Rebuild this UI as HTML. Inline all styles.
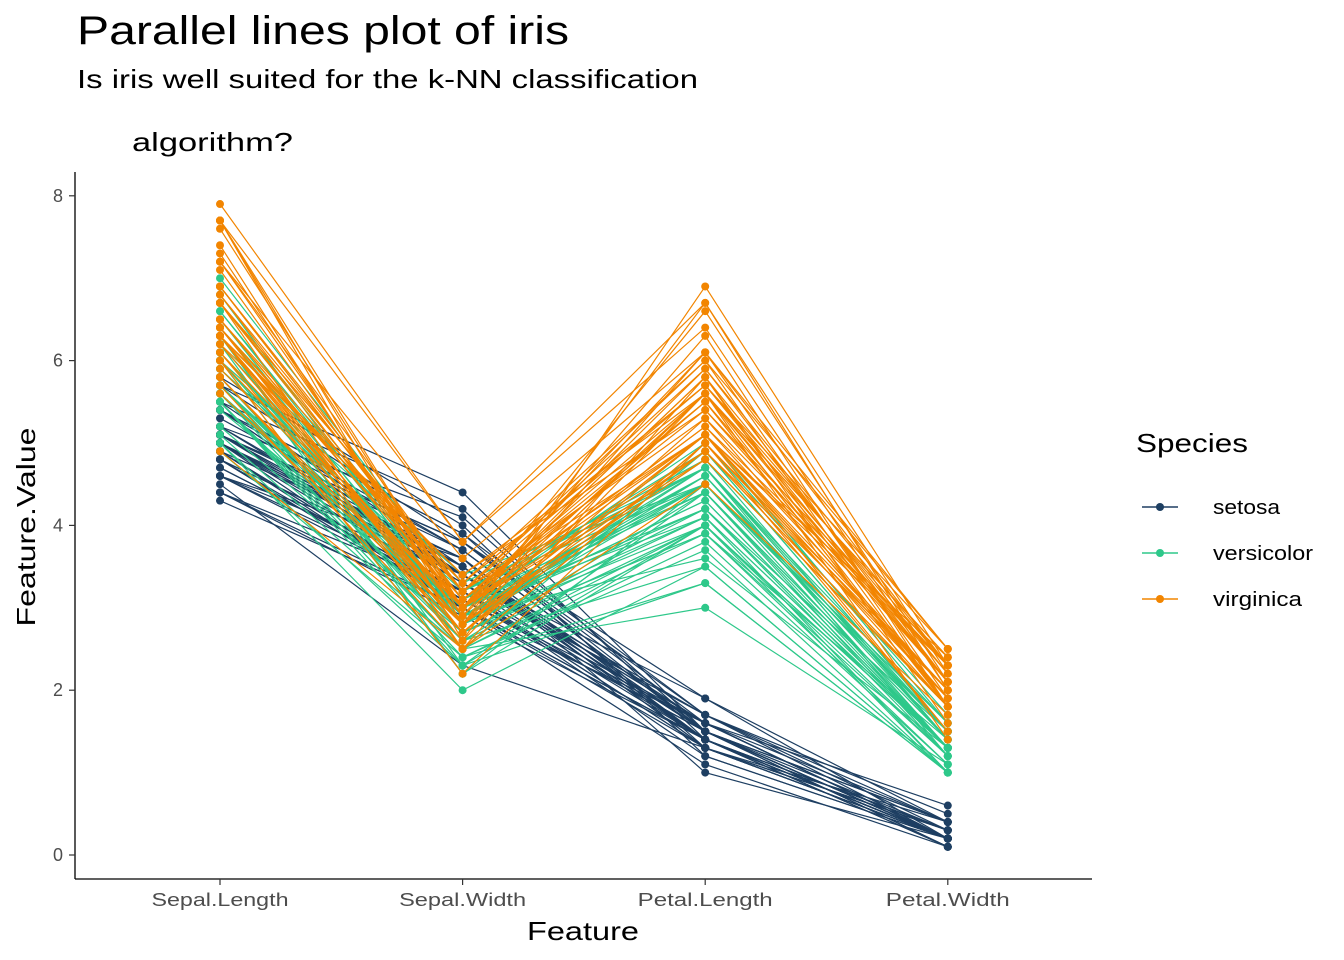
<!DOCTYPE html>
<html><head><meta charset="utf-8">
<style>
html,body{margin:0;padding:0;background:#fff;}
svg{display:block;font-family:"Liberation Sans",sans-serif;}
</style></head>
<body>
<svg id="chart" width="1344" height="960" viewBox="0 0 1344 960">
<text x="77" y="44" font-size="40" fill="#000" textLength="492" lengthAdjust="spacingAndGlyphs">Parallel lines plot of iris</text>
<text x="77" y="88" font-size="26" fill="#000" textLength="621" lengthAdjust="spacingAndGlyphs">Is iris well suited for the k-NN classification</text>
<text x="132" y="151" font-size="26" fill="#000" textLength="161" lengthAdjust="spacingAndGlyphs">algorithm?</text>
<g id="plot"></g>
<line x1="75" y1="172" x2="75" y2="879" stroke="#000" stroke-width="1.3"/>
<line x1="75" y1="879" x2="1092" y2="879" stroke="#000" stroke-width="1.3"/>
<g id="yticks"></g>
<g id="xticks"></g>
<text transform="translate(35,527) rotate(-90)" text-anchor="middle" font-size="26" fill="#000" textLength="199" lengthAdjust="spacingAndGlyphs">Feature.Value</text>
<text x="583" y="940" text-anchor="middle" font-size="26" fill="#000" textLength="112" lengthAdjust="spacingAndGlyphs">Feature</text>
<g>
<text x="1136" y="452" font-size="26" fill="#000" textLength="112" lengthAdjust="spacingAndGlyphs">Species</text>
<g id="legend-items"></g>
</g>
</svg>
<script>
const features = ["Sepal.Length","Sepal.Width","Petal.Length","Petal.Width"];
const yTicks = [0,2,4,6,8];
const speciesNames = ["setosa","versicolor","virginica"];
const speciesColors = ["#1e3f62","#2ec88a","#f28500"];
const setosa = [
[5.1,3.5,1.4,0.2],[4.9,3.0,1.4,0.2],[4.7,3.2,1.3,0.2],[4.6,3.1,1.5,0.2],[5.0,3.6,1.4,0.2],
[5.4,3.9,1.7,0.4],[4.6,3.4,1.4,0.3],[5.0,3.4,1.5,0.2],[4.4,2.9,1.4,0.2],[4.9,3.1,1.5,0.1],
[5.4,3.7,1.5,0.2],[4.8,3.4,1.6,0.2],[4.8,3.0,1.4,0.1],[4.3,3.0,1.1,0.1],[5.8,4.0,1.2,0.2],
[5.7,4.4,1.5,0.4],[5.4,3.9,1.3,0.4],[5.1,3.5,1.4,0.3],[5.7,3.8,1.7,0.3],[5.1,3.8,1.5,0.3],
[5.4,3.4,1.7,0.2],[5.1,3.7,1.5,0.4],[4.6,3.6,1.0,0.2],[5.1,3.3,1.7,0.5],[4.8,3.4,1.9,0.2],
[5.0,3.0,1.6,0.2],[5.0,3.4,1.6,0.4],[5.2,3.5,1.5,0.2],[5.2,3.4,1.4,0.2],[4.7,3.2,1.6,0.2],
[4.8,3.1,1.6,0.2],[5.4,3.4,1.5,0.4],[5.2,4.1,1.5,0.1],[5.5,4.2,1.4,0.2],[4.9,3.1,1.5,0.2],
[5.0,3.2,1.2,0.2],[5.5,3.5,1.3,0.2],[4.9,3.6,1.4,0.1],[4.4,3.0,1.3,0.2],[5.1,3.4,1.5,0.2],
[5.0,3.5,1.3,0.3],[4.5,2.3,1.3,0.3],[4.4,3.2,1.3,0.2],[5.0,3.5,1.6,0.6],[5.1,3.8,1.9,0.4],
[4.8,3.0,1.4,0.3],[5.1,3.8,1.6,0.2],[4.6,3.2,1.4,0.2],[5.3,3.7,1.5,0.2],[5.0,3.3,1.4,0.2]];
const versicolor = [
[7.0,3.2,4.7,1.4],[6.4,3.2,4.5,1.5],[6.9,3.1,4.9,1.5],[5.5,2.3,4.0,1.3],[6.5,2.8,4.6,1.5],
[5.7,2.8,4.5,1.3],[6.3,3.3,4.7,1.6],[4.9,2.4,3.3,1.0],[6.6,2.9,4.6,1.3],[5.2,2.7,3.9,1.4],
[5.0,2.0,3.5,1.0],[5.9,3.0,4.2,1.5],[6.0,2.2,4.0,1.0],[6.1,2.9,4.7,1.4],[5.6,2.9,3.6,1.3],
[6.7,3.1,4.4,1.4],[5.6,3.0,4.5,1.5],[5.8,2.7,4.1,1.0],[6.2,2.2,4.5,1.5],[5.6,2.5,3.9,1.1],
[5.9,3.2,4.8,1.8],[6.1,2.8,4.0,1.3],[6.3,2.5,4.9,1.5],[6.1,2.8,4.7,1.2],[6.4,2.9,4.3,1.3],
[6.6,3.0,4.4,1.4],[6.8,2.8,4.8,1.4],[6.7,3.0,5.0,1.7],[6.0,2.9,4.5,1.5],[5.7,2.6,3.5,1.0],
[5.5,2.4,3.8,1.1],[5.5,2.4,3.7,1.0],[5.8,2.7,3.9,1.2],[6.0,2.7,5.1,1.6],[5.4,3.0,4.5,1.5],
[6.0,3.4,4.5,1.6],[6.7,3.1,4.7,1.5],[6.3,2.3,4.4,1.3],[5.6,3.0,4.1,1.3],[5.5,2.5,4.0,1.3],
[5.5,2.6,4.4,1.2],[6.1,3.0,4.6,1.4],[5.8,2.6,4.0,1.2],[5.0,2.3,3.3,1.0],[5.6,2.7,4.2,1.3],
[5.7,3.0,4.2,1.2],[5.7,2.9,4.2,1.3],[6.2,2.9,4.3,1.3],[5.1,2.5,3.0,1.1],[5.7,2.8,4.1,1.3]];
const virginica = [
[6.3,3.3,6.0,2.5],[5.8,2.7,5.1,1.9],[7.1,3.0,5.9,2.1],[6.3,2.9,5.6,1.8],[6.5,3.0,5.8,2.2],
[7.6,3.0,6.6,2.1],[4.9,2.5,4.5,1.7],[7.3,2.9,6.3,1.8],[6.7,2.5,5.8,1.8],[7.2,3.6,6.1,2.5],
[6.5,3.2,5.1,2.0],[6.4,2.7,5.3,1.9],[6.8,3.0,5.5,2.1],[5.7,2.5,5.0,2.0],[5.8,2.8,5.1,2.4],
[6.4,3.2,5.3,2.3],[6.5,3.0,5.5,1.8],[7.7,3.8,6.7,2.2],[7.7,2.6,6.9,2.3],[6.0,2.2,5.0,1.5],
[6.9,3.2,5.7,2.3],[5.6,2.8,4.9,2.0],[7.7,2.8,6.7,2.0],[6.3,2.7,4.9,1.8],[6.7,3.3,5.7,2.1],
[7.2,3.2,6.0,1.8],[6.2,2.8,4.8,1.8],[6.1,3.0,4.9,1.8],[6.4,2.8,5.6,2.1],[7.2,3.0,5.8,1.6],
[7.4,2.8,6.1,1.9],[7.9,3.8,6.4,2.0],[6.4,2.8,5.6,2.2],[6.3,2.8,5.1,1.5],[6.1,2.6,5.6,1.4],
[7.7,3.0,6.1,2.3],[6.3,3.4,5.6,2.4],[6.4,3.1,5.5,1.8],[6.0,3.0,4.8,1.8],[6.9,3.1,5.4,2.1],
[6.7,3.1,5.6,2.4],[6.9,3.1,5.1,2.3],[5.8,2.7,5.1,1.9],[6.8,3.2,5.9,2.3],[6.7,3.3,5.7,2.5],
[6.7,3.0,5.2,2.3],[6.3,2.5,5.0,1.9],[6.5,3.0,5.2,2.0],[6.2,3.4,5.4,2.3],[5.9,3.0,5.1,1.8]];
const seriesData = [setosa, versicolor, virginica];

const NS = "http://www.w3.org/2000/svg";
const x0 = 220, xStep = 242.6;
const tickLabelWidths = {"Sepal.Length":137,"Sepal.Width":127,"Petal.Length":135,"Petal.Width":124};
const legendWidths = {"setosa":67,"versicolor":100,"virginica":89};
function xScale(i){ return x0 + i*xStep; }
function yScale(v){ return 855 - v*82.4; }
function mk(tag, attrs, parent){
  const e = document.createElementNS(NS, tag);
  for (const k in attrs) e.setAttribute(k, attrs[k]);
  parent.appendChild(e); return e;
}
const plot = document.getElementById("plot");
seriesData.forEach((rows, s) => {
  const g = mk("g", {}, plot);
  
  
  rows.forEach((r) => {
    const pts = r.map((v, i) => xScale(i).toFixed(1) + "," + yScale(v).toFixed(1)).join(" ");
    const pl = mk("polyline", {points: pts, fill: "none", stroke: speciesColors[s], "stroke-width": 1.2}, g);
    
    
  });
  rows.forEach((r) => {
    r.forEach((v, i) => {
      const c = mk("circle", {cx: xScale(i), cy: yScale(v), r: 4, fill: speciesColors[s]}, g);
      
      
    });
  });
});
const yt = document.getElementById("yticks");
yTicks.forEach(t => {
  const l = mk("line", {x1: 69, x2: 75, y1: yScale(t), y2: yScale(t), stroke: "#333", "stroke-width": 1.2}, yt);
  
  
  const tx = mk("text", {x: 63, y: yScale(t) + 6, "text-anchor": "end", "font-size": 18, fill: "#4d4d4d"}, yt);
  tx.textContent = t;
  
  
});
const xt = document.getElementById("xticks");
features.forEach((f, i) => {
  const l = mk("line", {x1: xScale(i), x2: xScale(i), y1: 879, y2: 885, stroke: "#333", "stroke-width": 1.2}, xt);
  
  
  const tx = mk("text", {x: xScale(i), y: 906, "text-anchor": "middle", "font-size": 18, fill: "#4d4d4d", textLength: tickLabelWidths[f], lengthAdjust: "spacingAndGlyphs"}, xt);
  tx.textContent = f;
  
  
});
const lg = document.getElementById("legend-items");
speciesNames.forEach((n, i) => {
  const y = 507 + i*46;
  const g = mk("g", {}, lg);
  
  
  mk("line", {x1: 1142, x2: 1178, y1: y, y2: y, stroke: speciesColors[i], "stroke-width": 1.5}, g);
  mk("circle", {cx: 1160, cy: y, r: 4, fill: speciesColors[i]}, g);
  const tx = mk("text", {x: 1213, y: y + 7, "font-size": 20, fill: "#000", textLength: legendWidths[n], lengthAdjust: "spacingAndGlyphs"}, g);
  tx.textContent = n;
});
</script>
</body></html>
